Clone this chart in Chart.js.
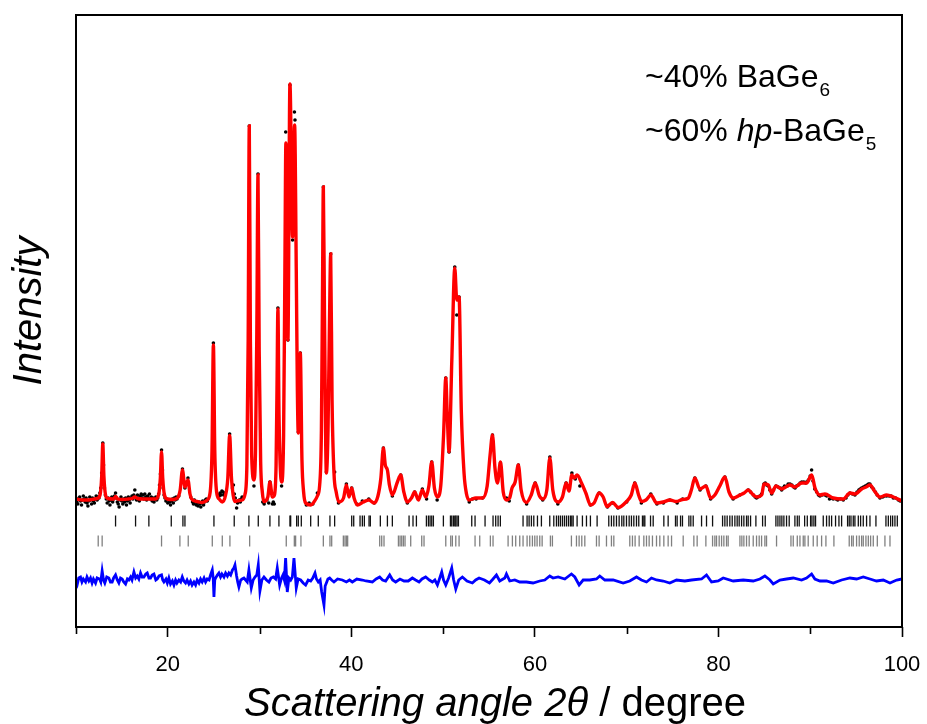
<!DOCTYPE html>
<html>
<head>
<meta charset="utf-8">
<script src="https://cdn.jsdelivr.net/npm/chart.js@4.4.1/dist/chart.umd.min.js"></script>
<style>
  html, body { margin: 0; padding: 0; background: #fff; }
  #wrap { width: 927px; height: 724px; }
</style>
</head>
<body>
<div id="wrap"><canvas id="c"></canvas></div>
<script>
const FONT = "'Liberation Sans', Arial, Helvetica, sans-serif";

// Rietveld fit of the powder pattern: [2theta (deg), intensity (arb. units)]
const calcProfile = [
  [10.00,1],[10.7,0],[11.4,0],[12.0,1],[12.3,1.5],[12.62,5],[12.80,24],[12.92,56],[13.04,24],[13.22,5],
  [13.45,1.5],[14.1,1],[14.31,3.5],[14.55,1],[15.0,0.5],[15.7,1],[16.1,1.5],[16.41,3],[16.7,1.5],[17.3,1],
  [17.9,1],[18.6,1],[19.0,5],[19.19,22],[19.32,48],[19.45,22],[19.64,5],[19.95,1],[20.5,0.5],[21.05,2],
  [21.35,10],[21.6,30],[21.87,13],[22.2,20],[22.42,6],[22.6,1],[23.2,-1.5],[23.76,-2.5],[24.3,0],[24.62,8],
  [24.82,50],[24.97,155],[25.12,50],[25.32,8],[25.6,1],[25.94,-2],[26.3,5],[26.54,22],[26.74,64.5],[26.94,22],
  [27.12,5],[27.31,-1.5],[27.8,-0.5],[28.12,0],[28.42,6],[28.62,35],[28.76,160],[28.88,374],[29.00,160],[29.14,45],
  [29.39,20],[29.56,50],[29.70,165],[29.83,325],[29.96,150],[30.12,38],[30.30,8],[30.48,-1.5],[30.9,3],[31.13,18],
  [31.4,3],[31.62,5],[31.80,35],[31.90,110],[32.00,191],[32.12,85],[32.40,18],[32.62,65],[32.76,230],[32.87,357],
  [33.09,160],[33.31,416],[33.60,263],[33.82,375],[34.00,230],[34.12,110],[34.22,67],[34.44,147],[34.62,40],[34.80,8],
  [35.02,-3],[35.6,-5],[36.0,-1],[36.30,4],[36.55,15],[36.74,70],[36.86,210],[36.95,313],[37.07,190],[37.28,27],
  [37.46,70],[37.63,185],[37.75,246],[37.90,100],[38.11,27],[38.35,8],[38.65,-2],[39.15,2],[39.46,15],[39.75,3],
  [40.04,12],[40.3,2],[40.66,-5],[41.3,-2],[41.92,0],[42.47,-3],[42.9,4],[43.22,22],[43.49,52],[43.70,35],
  [43.93,30],[44.15,15],[44.47,5],[45.02,18],[45.38,25],[45.72,8],[46.11,-2],[46.55,2],[46.9,8],[47.31,0],
  [47.74,10],[48.11,3],[48.45,14],[48.76,38],[49.05,12],[49.38,3],[49.75,15],[50.05,65],[50.29,122],[50.45,85],
  [50.65,48],[50.95,140],[51.27,232],[51.49,200],[51.74,203],[51.98,90],[52.28,27],[52.55,6],[52.83,0],[53.56,2],
  [54.29,2],[54.8,14],[55.12,45],[55.38,65],[55.65,32],[55.92,17],[56.25,38],[56.55,8],[56.9,0],[57.25,2],
  [57.51,12],[57.85,18],[58.2,35],[58.5,10],[59.08,-2.5],[59.6,5],[60.03,17],[60.5,4],[60.89,1],[61.3,10],
  [61.63,42],[61.95,10],[62.53,-2],[63.0,3],[63.40,17],[63.72,9],[64.02,25],[64.28,22],[64.6,25],[65.08,17],
  [65.55,7],[66.06,-5],[66.45,-3],[67.0,7],[67.44,3],[67.87,-6.5],[68.46,-2.5],[69.07,-7.5],[69.99,-1.5],[70.5,5],
  [70.89,17],[71.3,5],[71.62,-1.5],[72.1,0],[72.64,5],[73.26,-3],[73.98,-2],[74.71,0],[75.4,-1.5],[76.09,0.5],
  [76.7,1.7],[77.05,10],[77.43,22],[77.98,11],[78.63,14],[79.15,2],[79.61,5],[80.15,14],[80.70,23],[81.15,8],
  [81.61,2],[82.34,5],[82.8,7],[83.25,10],[83.7,6],[84.16,3],[84.71,5],[84.96,16],[85.43,15],[85.80,7],
  [86.27,14],[86.89,11],[87.35,13],[87.79,15],[88.34,13],[89.07,17],[89.61,17],[90.16,25],[90.52,12],[91.06,5],
  [91.6,6],[92.51,2],[93.6,1],[94.33,7],[94.87,6],[95.61,11],[96.1,13],[96.51,15],[97.0,9],[97.6,3],
  [98.33,5],[99.05,3],[100.0,-1]
];

// Measured counts: [2theta, intensity]
const observed = [
  [10.0,2],[10.1,-2],[10.2,-4],[10.3,1],[10.4,3],[10.5,-1],[10.6,-5],[10.7,0],[10.8,4],[10.9,1],
  [11.0,-2],[11.1,2],[11.2,-3],[11.3,-6],[11.4,-1],[11.5,3],[11.6,0],[11.7,-4],[11.8,2],[11.9,-1],
  [12.0,-3],[12.1,1],[12.2,4],[12.3,0],[12.4,3],[12.5,2],[12.6,7],[12.7,12],[12.8,27],[12.92,57],
  [13.0,35],[13.1,12],[13.2,5],[13.3,1],[13.4,-3],[13.5,2],[13.6,-1],[13.7,-5],[13.8,0],[13.9,3],
  [14.0,-2],[14.1,1],[14.2,4],[14.31,7],[14.4,2],[14.5,-2],[14.6,-4],[14.7,-7],[14.8,0],[14.9,3],
  [15.0,-1],[15.1,-4],[15.2,1],[15.3,-2],[15.4,2],[15.5,-5],[15.6,-1],[15.7,3],[15.8,0],[15.9,-3],
  [16.0,2],[16.1,4],[16.2,1],[16.3,5],[16.41,10],[16.5,3],[16.6,0],[16.7,5],[16.8,2],[16.9,-1],
  [17.0,4],[17.1,6],[17.2,2],[17.3,5],[17.4,1],[17.5,6],[17.6,3],[17.7,0],[17.8,4],[17.9,2],
  [18.0,6],[18.1,1],[18.2,3],[18.3,-1],[18.4,2],[18.5,-2],[18.6,1],[18.7,3],[18.8,0],[18.9,2],
  [19.0,6],[19.1,15],[19.2,26],[19.32,50],[19.42,30],[19.5,12],[19.6,5],[19.7,2],[19.8,-1],[19.9,1],
  [20.0,-3],[20.1,0],[20.2,-2],[20.3,-5],[20.4,-1],[20.5,1],[20.6,-3],[20.7,2],[20.8,0],[20.9,3],
  [21.0,1],[21.2,4],[21.6,31],[21.87,12],[22.2,22],[22.5,3],[22.7,-2],[22.8,-4],[22.9,0],[23.0,-2],
  [23.1,-5],[23.2,-3],[23.3,-6],[23.4,-2],[23.5,-4],[23.6,-7],[23.7,-3],[23.8,-1],[23.9,-5],[24.0,-2],
  [24.1,0],[24.2,1],[24.3,-1],[24.97,157],[25.5,5],[25.6,4],[25.7,7],[25.8,5],[25.9,9],[26.0,8],
  [26.1,5],[26.2,7],[26.74,66],[27.05,12],[27.15,15],[27.25,6],[27.35,2],[27.5,-8],[27.6,-3],[27.7,-1],
  [27.8,0],[27.9,-2],[28.0,1],[28.1,3],[28.2,2],[28.88,374],[29.39,14],[29.83,326],[30.35,-2],[30.5,-4],
  [30.6,-1],[30.8,0],[31.0,-3],[31.13,18],[31.4,-4],[31.5,-2],[31.6,-4],[32.0,192],[32.4,14],[32.85,368],
  [33.09,160],[33.31,415],[33.6,260],[33.8,388],[33.86,380],[34.22,68],[34.44,147],[35.1,-5],[35.4,-3],[35.8,-4],
  [36.3,7],[36.95,313],[37.28,28],[37.75,246],[38.18,28],[38.6,-3],[39.46,16],[40.04,12],[40.6,-4],[41.2,-1],
  [41.9,1],[42.5,-3],[43.49,52],[44.47,4],[45.38,25],[46.1,-3],[46.9,8],[47.74,11],[48.2,1],[48.76,38],
  [49.35,0],[50.29,122],[50.65,48],[51.27,233],[51.49,185],[51.74,203],[52.85,-2],[53.2,1],[53.6,1],[54.3,2],
  [55.38,65],[56.25,37],[56.9,2],[57.2,-1],[58.2,35],[59.1,-4],[60.03,17],[60.85,0],[61.63,43],[62.5,-4],
  [63.4,17],[64.03,27],[64.4,21],[64.9,14],[66.05,-5],[67.0,7],[67.9,-7],[68.45,-3],[69.05,-8],[70.0,-2],
  [70.88,17],[71.6,-3],[72.63,6],[73.3,-4],[74.0,-3],[74.7,0],[75.5,-3],[76.1,1],[77.43,22],[78.0,10],
  [78.63,14],[79.15,1],[80.7,23],[81.6,1],[82.34,5],[83.25,10],[83.5,8],[83.8,5],[84.0,3],[84.15,2],
  [84.3,3],[84.5,4],[84.7,6],[84.96,16],[85.1,17],[85.25,15],[85.43,14],[85.6,10],[85.8,6],[86.0,10],
  [86.27,14],[86.5,13],[86.7,12],[86.89,10],[87.0,12],[87.2,14],[87.5,14],[87.6,16],[87.8,16],[88.0,15],
  [88.2,13],[88.35,12],[88.5,14],[88.7,15],[88.9,17],[89.08,18],[89.3,18],[89.5,17],[89.6,18],[89.8,20],
  [90.0,24],[90.15,30],[90.3,19],[90.5,11],[90.7,8],[90.9,5],[91.06,4],[91.3,5],[91.6,5],[91.8,4],
  [92.1,1],[92.3,2],[92.5,1],[92.8,1],[93.0,0],[93.3,1],[93.6,0],[93.9,2],[94.1,5],[94.33,7],
  [94.6,6],[94.87,5],[95.1,8],[95.3,10],[95.45,11],[95.6,12],[95.8,13],[96.0,14],[96.2,15],[96.35,16],
  [96.5,16],[96.7,13],[96.9,11],[97.1,8],[97.3,5],[97.6,2],[97.9,3],[98.1,4],[98.33,4],[98.6,4],
  [98.8,4],[99.05,2],[99.3,2],[99.6,0],[99.8,-1]
];

// Observed minus calculated, shifted below the reflection markers
const difference = [
  [10.0,-80],[10.15,-84],[10.3,-78],[10.49,-77],[10.65,-82],[10.8,-79],[11.04,-82],[11.2,-77],[11.4,-81],[11.58,-78],
  [11.75,-83],[11.9,-79],[12.13,-83],[12.3,-78],[12.56,-79],[12.7,-82],[12.85,-71],[13.0,-80],[13.14,-83],[13.35,-77],
  [13.58,-78],[13.75,-82],[13.94,-82],[14.1,-78],[14.31,-75],[14.5,-80],[14.67,-83],[14.85,-78],[15.03,-79],[15.2,-82],
  [15.40,-84],[15.6,-79],[15.76,-80],[15.95,-77],[16.1,-80],[16.31,-72],[16.5,-78],[16.67,-76],[16.85,-79],[17.03,-73],
  [17.2,-77],[17.40,-77],[17.6,-74],[17.76,-73],[17.95,-78],[18.12,-78],[18.3,-75],[18.49,-74],[18.7,-80],[18.85,-79],
  [19.05,-76],[19.32,-75],[19.45,-80],[19.58,-82],[19.8,-79],[19.95,-83],[20.12,-78],[20.3,-84],[20.5,-81],[20.67,-85],
  [20.85,-80],[21.0,-83],[21.21,-80],[21.4,-82],[21.58,-77],[21.75,-81],[21.94,-83],[22.1,-80],[22.3,-84],[22.48,-81],
  [22.65,-85],[22.85,-82],[23.03,-85],[23.2,-80],[23.4,-83],[23.57,-79],[23.75,-82],[23.95,-78],[24.12,-82],[24.3,-79],
  [24.5,-80],[24.66,-75],[24.85,-70],[24.95,-78],[25.03,-97],[25.12,-80],[25.21,-78],[25.4,-75],[25.57,-73],[25.75,-77],
  [25.9,-74],[26.12,-77],[26.3,-73],[26.5,-76],[26.66,-73],[26.85,-75],[27.05,-70],[27.2,-68],[27.32,-65],[27.5,-76],
  [27.62,-82],[27.75,-87],[27.95,-80],[28.1,-79],[28.30,-78],[28.66,-82],[28.84,-70],[29.10,-88],[29.30,-80],[29.50,-77],
  [29.7,-75],[29.86,-65],[30.04,-91],[30.25,-80],[30.48,-77],[30.75,-80],[31.02,-82],[31.25,-78],[31.50,-77],[31.75,-79],
  [31.93,-68],[32.19,-85],[32.4,-78],[32.55,-75],[32.7,-80],[32.84,-58],[33.02,-92],[33.2,-78],[33.39,-80],[33.57,-77],
  [33.75,-58],[34.00,-88],[34.2,-79],[34.48,-80],[34.75,-83],[35.02,-85],[35.3,-80],[35.57,-81],[35.8,-78],[36.04,-73],
  [36.2,-79],[36.40,-82],[36.6,-80],[36.77,-92],[37.02,-105],[37.15,-86],[37.28,-83],[37.45,-79],[37.64,-78],[37.85,-80],
  [38.11,-82],[38.5,-79],[39.02,-80],[39.46,-82],[39.8,-80],[40.11,-82],[40.6,-79],[41.2,-80],[41.6,-81],[42.29,-82],
  [42.7,-79],[43.09,-77],[43.4,-80],[43.74,-81],[44.18,-75],[44.5,-80],[44.83,-82],[45.3,-79],[45.74,-81],[46.2,-81],
  [46.65,-78],[47.0,-80],[47.38,-82],[47.7,-79],[48.10,-77],[48.5,-80],[48.83,-82],[49.1,-80],[49.38,-85],[49.6,-79],
  [49.85,-72],[50.05,-80],[50.29,-85],[50.6,-78],[50.94,-68],[51.15,-80],[51.38,-89],[51.7,-80],[52.1,-77],[52.6,-81],
  [53.19,-83],[53.55,-80],[53.92,-78],[54.5,-80],[55.05,-83],[55.44,-79],[55.81,-75],[56.17,-81],[56.72,-78],
  [56.9,-74],[57.26,-81],[57.81,-80],[58.35,-82],[59.08,-82],[59.8,-83],[60.53,-81],[61.08,-80],[61.62,-76],[61.98,-78],
  [62.53,-77],[63.26,-79],[63.98,-74],[64.35,-77],[64.82,-85],[65.26,-80],[65.98,-80],[66.71,-79],[67.07,-76],[67.62,-80],
  [68.53,-80],[69.62,-83],[70.34,-81],[71.07,-77],[71.61,-80],[72.16,-82],[72.70,-78],[73.25,-80],[73.98,-81],[74.70,-83],
  [75.43,-80],[76.34,-81],[77.07,-80],[78.16,-79],[78.70,-75],[79.25,-82],[79.97,-81],[80.52,-78],[81.61,-81],[82.70,-80],
  [83.79,-81],[84.52,-79],[85.06,-76],[85.61,-80],[85.97,-84],[86.70,-80],[87.42,-79],[88.15,-78],[89.06,-80],[89.60,-78],
  [90.15,-74],[90.51,-79],[91.06,-81],[91.78,-81],[92.51,-83],[93.42,-80],[94.33,-78],[95.05,-79],[95.78,-77],[96.51,-79],
  [97.23,-81],[97.96,-80],[98.69,-83],[99.42,-80],[100.0,-79]
];

// Bragg reflection positions (2theta, deg) of the two phases
const reflectionsBaGe6 = [
  14.31,16.49,17.94,20.38,21.65,21.87,25.03,27.24,28.84,29.86,31.13,32.11,33.31,33.39,34.04,34.22,34.55,35.57,36.40,37.67,
  38.18,40.04,40.26,40.95,41.20,41.42,41.93,42.07,43.16,43.93,44.47,46.29,46.72,47.09,48.18,48.40,48.58,48.76,48.94,50.03,
  50.80,50.94,51.12,51.27,51.38,51.52,51.67,53.12,53.48,54.57,55.44,55.73,55.99,56.24,58.71,59.15,59.37,59.62,59.88,60.28,
  60.71,61.62,62.06,62.35,62.57,62.78,63.00,63.22,63.44,63.66,63.87,64.02,64.17,64.60,65.18,65.62,66.05,66.78,68.05,68.34,
  68.60,68.89,69.18,69.47,69.69,69.98,70.27,70.52,70.78,71.07,71.32,71.72,71.87,71.98,72.60,72.89,74.05,74.52,75.32,75.50,
  75.87,76.08,76.78,76.99,77.25,78.16,78.70,79.36,80.45,80.70,80.95,81.24,81.50,81.79,82.04,82.26,82.52,82.77,83.06,83.24,
  83.50,84.08,84.81,85.10,86.26,86.48,86.70,86.91,87.13,87.42,87.71,88.33,88.59,88.80,89.39,89.68,90.04,90.19,90.40,90.58,
  91.42,91.78,92.07,92.33,92.76,93.13,93.42,94.07,94.25,94.44,94.69,94.87,95.24,95.49,95.78,96.14,96.51,97.16,98.25,98.51,
  98.76,98.98,99.23,99.49
];
const reflectionsHpBaGe5 = [
  12.42,12.85,19.32,21.32,22.23,24.85,25.94,26.77,28.92,32.91,33.79,33.93,34.51,36.95,37.67,37.86,39.13,39.31,39.46,39.60,
  43.09,43.31,43.56,45.13,45.31,45.49,45.67,45.85,46.47,47.67,47.92,50.29,50.83,51.01,51.38,51.74,53.48,53.99,55.15,55.44,
  57.08,57.55,57.91,58.35,58.71,59.15,59.44,59.73,59.99,60.24,60.53,60.79,61.69,61.91,63.98,64.53,64.82,65.11,65.44,66.71,
  67.00,67.80,68.34,68.60,70.34,70.63,70.92,71.36,71.87,72.16,72.45,72.81,73.25,73.61,74.05,74.52,74.89,76.16,77.32,77.68,
  78.63,79.36,79.61,79.79,80.08,80.34,80.59,80.88,81.06,82.34,82.55,82.77,83.06,83.35,83.79,84.15,84.44,84.70,85.06,85.24,
  86.33,87.90,88.15,88.59,88.88,89.24,89.42,89.78,90.33,90.76,91.24,91.71,92.58,94.25,94.51,94.69,95.05,95.34,95.60,95.78,
  96.07,96.33,96.58,96.87,97.31,98.14,98.69
];

// Intensity levels at which the reflection markers are drawn
const markerLevelBaGe6 = -21;
const markerLevelHpBaGe5 = -41;

const xRange = [10, 100];
const yRange = [-127, 485];
const xLabelledTicks = [20, 40, 60, 80, 100];
const xMinorTicks = [10, 30, 50, 70, 90];

const toPoints = arr => arr.map(([x, y]) => ({ x, y }));
const markerPoints = (list, level) => list.map(x => ({ x, y: level }));

// Frame, short minor ticks on 2theta, axis titles and phase fractions
const decorations = {
  id: 'decorations',
  afterDraw(chart) {
    const { ctx, chartArea: a, scales } = chart;
    ctx.save();
    ctx.strokeStyle = '#000';
    ctx.lineWidth = 2;
    ctx.strokeRect(a.left, a.top, a.right - a.left, a.bottom - a.top);

    ctx.lineWidth = 1.6;
    ctx.beginPath();
    xMinorTicks.forEach(v => {
      const px = Math.round(scales.x.getPixelForValue(v)) + 0.5;
      ctx.moveTo(px, a.bottom);
      ctx.lineTo(px, a.bottom + 7);
    });
    ctx.stroke();

    // x-axis title, italic quantity followed by upright unit
    ctx.fillStyle = '#000';
    ctx.textBaseline = 'alphabetic';
    const partA = 'Scattering angle 2\u03B8';
    const partB = ' / degree';
    const fA = 'italic 40px ' + FONT;
    const fB = '40px ' + FONT;
    ctx.font = fA; const wA = ctx.measureText(partA).width;
    ctx.font = fB; const wB = ctx.measureText(partB).width;
    const x0 = (a.left + a.right) / 2 - (wA + wB) / 2 + 6;
    const yT = a.bottom + 89;
    ctx.font = fA; ctx.fillText(partA, x0, yT);
    ctx.font = fB; ctx.fillText(partB, x0 + wA, yT);

    // y-axis title
    ctx.save();
    ctx.translate(30, (a.top + a.bottom) / 2 - 10);
    ctx.rotate(-Math.PI / 2);
    ctx.textAlign = 'center';
    ctx.textBaseline = 'middle';
    ctx.font = 'italic 40px ' + FONT;
    ctx.fillText('Intensity', 0, 0);
    ctx.restore();

    // phase fractions with subscripts
    const lines = [
      { y: 87, parts: [{ t: '~40% BaGe' }, { t: '6', sub: true }] },
      { y: 141, parts: [{ t: '~60% ' }, { t: 'hp', it: true }, { t: '-BaGe' }, { t: '5', sub: true }] }
    ];
    lines.forEach(line => {
      let x = 645;
      line.parts.forEach(p => {
        ctx.font = (p.it ? 'italic ' : '') + (p.sub ? '19px ' : '32px ') + FONT;
        ctx.fillText(p.t, x + (p.sub ? 1 : 0), line.y + (p.sub ? 9 : 0));
        x += ctx.measureText(p.t).width + (p.sub ? 1 : 0);
      });
    });
    ctx.restore();
  }
};

new Chart(document.getElementById('c'), {
  type: 'line',
  data: {
    datasets: [
      {
        label: 'Calculated',
        data: toPoints(calcProfile),
        borderColor: '#ff0000',
        borderWidth: 3.4,
        pointRadius: 0,
        cubicInterpolationMode: 'monotone',
        order: 0
      },
      {
        label: 'Observed',
        data: toPoints(observed),
        showLine: false,
        pointRadius: 1.8,
        pointBackgroundColor: '#000',
        pointBorderWidth: 0,
        order: 1
      },
      {
        label: 'BaGe6',
        data: markerPoints(reflectionsBaGe6, markerLevelBaGe6),
        showLine: false,
        pointStyle: 'line',
        rotation: 90,
        pointRadius: 5.5,
        pointBorderColor: '#111',
        pointBorderWidth: 1.3,
        order: 2
      },
      {
        label: 'hp-BaGe5',
        data: markerPoints(reflectionsHpBaGe5, markerLevelHpBaGe5),
        showLine: false,
        pointStyle: 'line',
        rotation: 90,
        pointRadius: 5.5,
        pointBorderColor: '#808080',
        pointBorderWidth: 1.3,
        order: 2
      },
      {
        label: 'Difference',
        data: toPoints(difference),
        borderColor: '#0000ff',
        borderWidth: 2.8,
        pointRadius: 0,
        tension: 0,
        order: 3
      }
    ]
  },
  options: {
    responsive: true,
    maintainAspectRatio: false,
    animation: false,
    layout: { padding: { left: 0, right: 25, top: 15, bottom: 0 } },
    plugins: { legend: { display: false }, tooltip: { enabled: false } },
    scales: {
      x: {
        type: 'linear',
        min: xRange[0],
        max: xRange[1],
        afterFit: s => { s.height = 97; s.paddingLeft = 0; s.paddingRight = 0; },
        afterBuildTicks: s => { s.ticks = xLabelledTicks.map(v => ({ value: v })); },
        ticks: {
          color: '#000',
          padding: 15,
          maxRotation: 0,
          font: { family: FONT, size: 22 }
        },
        grid: {
          drawOnChartArea: false,
          drawTicks: true,
          tickLength: 10,
          tickWidth: 1.6,
          tickColor: '#000'
        },
        border: { display: false }
      },
      y: {
        type: 'linear',
        min: yRange[0],
        max: yRange[1],
        afterFit: s => { s.width = 76; s.paddingTop = 0; s.paddingBottom = 0; },
        ticks: { display: false },
        grid: { display: false, drawTicks: false },
        border: { display: false }
      }
    }
  },
  plugins: [decorations]
});
</script>
</body>
</html>
